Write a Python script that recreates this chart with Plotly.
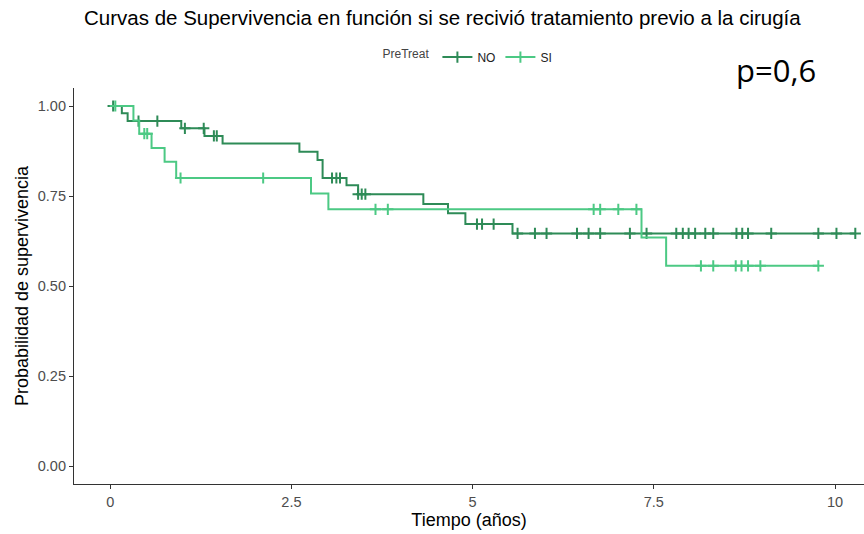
import plotly.graph_objects as go

# NO group (PreTreat = NO): step times and survival
no_times = [0.0, 0.16, 0.24, 0.98, 1.30, 1.55, 2.61, 2.86, 2.93, 3.26, 3.42, 4.32, 4.66, 4.90, 5.55]
no_surv = [1.0, 0.98, 0.958, 0.938, 0.917, 0.896, 0.873, 0.85, 0.80, 0.78, 0.755, 0.728, 0.702, 0.672, 0.646]
no_end = 10.28
no_censor = [0.04, 0.39, 0.65, 1.03, 1.29, 1.43, 1.47, 3.06, 3.12, 3.17, 3.42, 3.47, 3.52,
             5.06, 5.13, 5.29, 5.62, 5.86, 6.02, 6.44, 6.60, 6.76, 7.17, 7.40, 7.81, 7.90,
             7.98, 8.07, 8.21, 8.32, 8.64, 8.72, 8.80, 9.12, 9.77, 10.02, 10.28]

# SI group (PreTreat = SI)
si_times = [0.0, 0.32, 0.40, 0.57, 0.75, 0.91, 2.77, 3.01, 7.33, 7.67]
si_surv = [1.0, 0.96, 0.923, 0.883, 0.845, 0.80, 0.757, 0.713, 0.635, 0.556]
si_end = 9.77
si_censor = [0.07, 0.47, 0.51, 0.97, 2.11, 3.66, 3.83, 6.67, 6.76, 7.01, 7.26,
             8.15, 8.32, 8.63, 8.71, 8.80, 8.97, 9.77]

x_ticks = [0, 2.5, 5, 7.5, 10]
x_ticklabels = ["0", "2.5", "5", "7.5", "10"]
y_ticks = [0, 0.25, 0.5, 0.75, 1.0]
y_ticklabels = ["0.00", "0.25", "0.50", "0.75", "1.00"]

C_NO = "#2e8b57"
C_SI = "#4cc984"


def surv_at(times, surv, t):
    s = surv[0]
    for ti, si in zip(times, surv):
        if ti <= t:
            s = si
    return s


fig = go.Figure()
for name, times, surv, end, cens, col in [
    ("NO", no_times, no_surv, no_end, no_censor, C_NO),
    ("SI", si_times, si_surv, si_end, si_censor, C_SI),
]:
    fig.add_trace(go.Scatter(
        x=times + [end], y=surv + [surv[-1]], mode="lines",
        line=dict(color=col, width=2, shape="hv"), showlegend=False, hoverinfo="skip"))
    fig.add_trace(go.Scatter(
        x=cens, y=[surv_at(times, surv, t) for t in cens], mode="markers",
        marker=dict(symbol="cross-thin", size=8, line=dict(color=col, width=2)),
        showlegend=False, hoverinfo="skip"))
    fig.add_trace(go.Scatter(
        x=[None], y=[None], mode="lines+markers", name=name,
        line=dict(color=col, width=2),
        marker=dict(symbol="cross-thin", size=8, line=dict(color=col, width=2))))

fig.update_layout(
    width=864, height=534,
    margin=dict(l=74, r=0, t=88, b=50),
    paper_bgcolor="white", plot_bgcolor="white",
    font=dict(family="Liberation Sans, Arial, sans-serif", color="#000000"),
    title=dict(text="Curvas de Supervivencia en función si se recivió tratamiento previo a la cirugía",
               x=0.512, xanchor="center", y=0.967, yanchor="middle",
               font=dict(size=20.5, color="#000000")),
    legend=dict(orientation="h", x=0.5, xanchor="center", y=1.078, yanchor="middle",
                title=dict(text="PreTreat", font=dict(size=12, color="#444444")),
                font=dict(size=12, color="#222222"), itemwidth=30,
                bgcolor="rgba(0,0,0,0)"),
    xaxis=dict(range=[-0.5, 10.4], tickvals=x_ticks, ticktext=x_ticklabels,
               showgrid=False, zeroline=False, showline=True, linecolor="#333333", linewidth=1.2,
               ticks="outside", ticklen=4, tickcolor="#333333",
               tickfont=dict(size=14.5, color="#4d4d4d"),
               title=dict(text="Tiempo (años)", font=dict(size=18, color="#000000"), standoff=4)),
    yaxis=dict(range=[-0.05, 1.05], tickvals=y_ticks, ticktext=y_ticklabels,
               showgrid=False, zeroline=False, showline=True, linecolor="#333333", linewidth=1.2,
               ticks="outside", ticklen=4, tickcolor="#333333",
               tickfont=dict(size=14.5, color="#4d4d4d"),
               title=dict(text="Probabilidad de supervivencia", font=dict(size=18, color="#000000"), standoff=4)),
    annotations=[dict(text="p=0,6", xref="paper", yref="paper", x=0.889, y=1.045,
                      xanchor="center", yanchor="middle", showarrow=False,
                      font=dict(size=31, family="Open Sans, sans-serif", color="#000000"))],
)

fig.write_html("out.html")
